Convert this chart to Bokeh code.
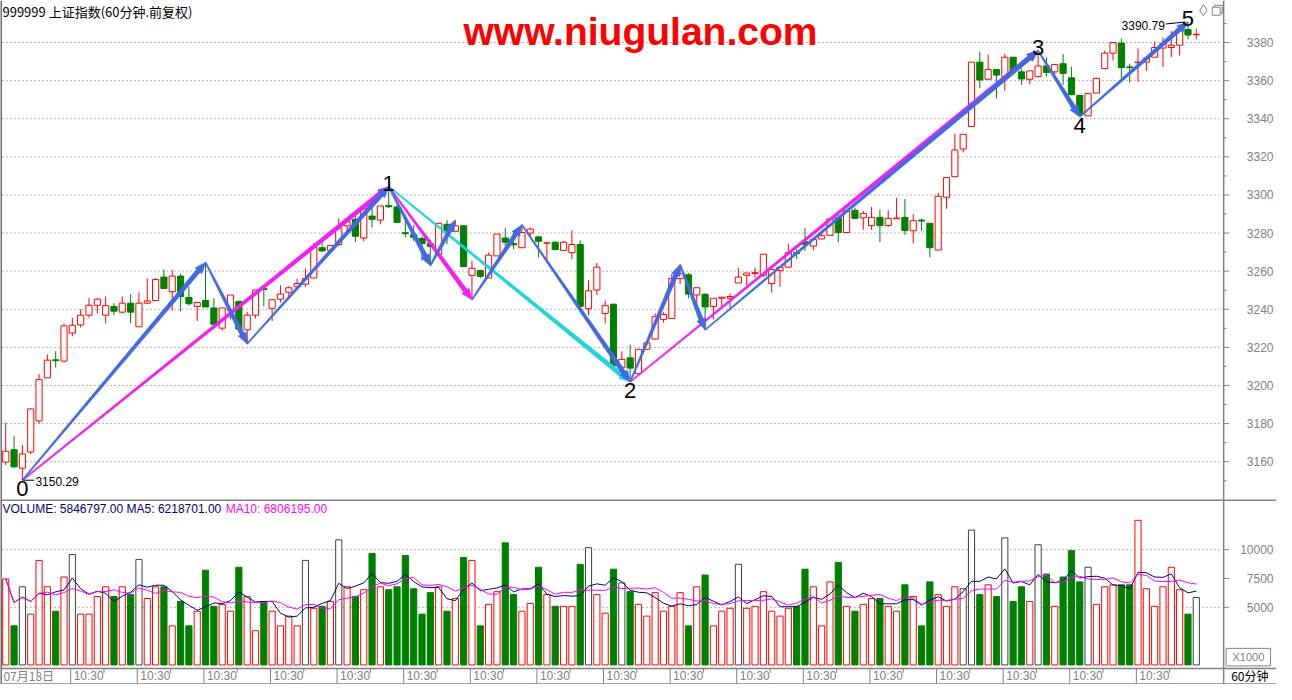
import numpy as np
import pandas as pd
from bokeh.plotting import figure
from bokeh.models import Range1d
from bokeh.core.properties import value
from bokeh.embed import file_html
from bokeh.resources import INLINE

# ---------------- data (60-minute bars, 上证指数) ----------------
opens = [3159.8, 3166.3, 3156.6, 3165.1, 3181.4, 3204.0, 3213.5, 3212.8, 3227.5, 3231.8,
         3236.9, 3242.1, 3236.9, 3241.5, 3238.5, 3243.2, 3230.8, 3243.2, 3244.6, 3256.9,
         3249.2, 3257.4, 3246.2, 3241.5, 3244.6, 3240.7, 3230.1, 3239.5, 3244.1, 3229.2,
         3236.9, 3251.0, 3240.5, 3245.3, 3248.9, 3251.8, 3253.2, 3256.4, 3272.3, 3270.9,
         3274.0, 3283.8, 3287.2, 3277.4, 3288.9, 3286.8, 3294.5, 3293.7, 3280.2, 3279.1,
         3277.1, 3274.4, 3268.9, 3284.6, 3280.9, 3283.8, 3257.8, 3260.3, 3256.4, 3268.0,
         3277.4, 3274.5, 3272.3, 3280.0, 3278.0, 3274.7, 3275.2, 3270.9, 3269.7, 3274.0,
         3240.3, 3250.1, 3237.8, 3242.7, 3209.4, 3214.5, 3206.2, 3219.0, 3224.4, 3234.7,
         3235.2, 3256.1, 3258.1, 3247.5, 3247.9, 3241.5, 3245.8, 3245.8, 3253.8, 3257.8,
         3258.8, 3257.8, 3253.5, 3260.3, 3262.1, 3269.7, 3275.4, 3273.2, 3276.9, 3278.8,
         3288.0, 3280.3, 3292.0, 3288.0, 3283.9, 3288.2, 3283.9, 3287.5, 3288.2, 3281.2,
         3286.8, 3285.1, 3271.1, 3298.8, 3309.6, 3324.1, 3335.9, 3369.7, 3360.7, 3365.8,
         3362.1, 3372.3, 3364.6, 3360.7, 3362.1, 3367.7, 3364.6, 3368.9, 3361.5, 3352.3,
         3341.5, 3353.5, 3366.3, 3374.4, 3379.7, 3367.2, 3369.4, 3369.7, 3372.3, 3377.1,
         3377.4, 3378.6, 3386.8, 3384.1]
highs = [3180.5, 3173.5, 3168.9, 3188.0, 3206.0, 3216.2, 3218.0, 3232.5, 3235.6, 3240.0,
         3245.8, 3245.8, 3246.7, 3243.2, 3246.7, 3247.9, 3248.9, 3256.1, 3256.4, 3260.9,
         3260.7, 3258.6, 3251.8, 3243.6, 3264.6, 3245.8, 3240.7, 3247.5, 3244.6, 3238.5,
         3250.1, 3251.8, 3245.3, 3252.6, 3252.1, 3256.1, 3261.2, 3274.9, 3274.9, 3273.5,
         3287.7, 3287.7, 3289.4, 3294.2, 3294.5, 3294.2, 3304.4, 3294.9, 3287.7, 3284.3,
         3278.3, 3276.6, 3285.1, 3286.8, 3286.8, 3283.8, 3265.5, 3260.7, 3269.7, 3279.5,
         3282.6, 3280.9, 3284.3, 3282.9, 3278.0, 3274.9, 3275.7, 3275.7, 3281.4, 3276.1,
         3255.2, 3264.3, 3244.6, 3242.7, 3217.9, 3221.4, 3219.3, 3222.7, 3237.8, 3238.5,
         3258.6, 3263.4, 3259.0, 3251.3, 3248.4, 3245.8, 3246.3, 3248.4, 3261.7, 3259.0,
         3261.7, 3268.9, 3261.2, 3262.4, 3274.4, 3271.5, 3282.6, 3276.6, 3280.9, 3287.7,
         3289.4, 3292.0, 3293.3, 3291.5, 3293.7, 3292.3, 3292.0, 3298.5, 3297.9, 3289.7,
         3287.7, 3285.1, 3301.0, 3309.4, 3332.1, 3331.8, 3369.7, 3375.2, 3373.7, 3365.8,
         3374.0, 3372.3, 3366.3, 3365.1, 3375.7, 3372.3, 3368.5, 3374.0, 3367.2, 3352.3,
         3353.2, 3361.5, 3375.7, 3380.0, 3382.1, 3368.9, 3376.9, 3371.8, 3380.5, 3382.6,
         3386.0, 3387.2, 3390.79, 3387.2]
lows = [3158.3, 3156.6, 3150.29, 3164.0, 3180.0, 3204.0, 3209.4, 3212.0, 3225.8, 3230.4,
        3235.6, 3237.8, 3232.6, 3236.8, 3237.8, 3232.6, 3230.8, 3242.9, 3244.6, 3250.9,
        3239.3, 3239.0, 3241.9, 3233.8, 3241.2, 3232.1, 3228.7, 3234.7, 3229.6, 3221.9,
        3235.2, 3241.5, 3233.8, 3243.6, 3246.3, 3251.5, 3251.8, 3256.4, 3270.3, 3270.6,
        3273.2, 3280.9, 3275.4, 3275.7, 3282.9, 3284.6, 3293.2, 3285.6, 3277.8, 3275.7,
        3265.5, 3262.9, 3268.0, 3274.0, 3280.9, 3262.1, 3245.0, 3256.4, 3256.4, 3268.0,
        3273.2, 3271.5, 3272.3, 3278.3, 3267.2, 3265.1, 3270.9, 3270.6, 3266.3, 3241.5,
        3236.9, 3247.5, 3232.6, 3210.4, 3207.0, 3201.9, 3205.6, 3219.0, 3224.1, 3233.0,
        3235.2, 3253.2, 3245.8, 3239.8, 3229.2, 3234.7, 3241.5, 3240.7, 3253.8, 3252.6,
        3256.6, 3256.9, 3248.7, 3251.8, 3261.7, 3266.3, 3270.6, 3270.9, 3276.9, 3278.8,
        3275.2, 3280.0, 3287.4, 3281.7, 3281.7, 3275.2, 3283.4, 3287.5, 3279.1, 3274.5,
        3281.2, 3267.2, 3271.1, 3292.8, 3309.6, 3322.4, 3335.9, 3356.1, 3360.7, 3350.6,
        3354.7, 3364.6, 3357.8, 3358.1, 3362.1, 3362.1, 3362.9, 3357.8, 3352.6, 3341.0,
        3341.5, 3353.5, 3366.0, 3370.6, 3361.2, 3359.0, 3359.5, 3365.0, 3372.3, 3367.2,
        3372.3, 3373.2, 3381.7, 3381.7]
closes = [3165.5, 3157.3, 3164.1, 3187.7, 3203.1, 3213.3, 3213.0, 3231.3, 3231.6, 3236.9,
          3242.1, 3245.3, 3241.9, 3239.0, 3243.2, 3238.5, 3243.2, 3244.4, 3255.6, 3250.9,
          3257.4, 3246.7, 3242.9, 3243.6, 3241.2, 3232.1, 3240.7, 3247.5, 3229.6, 3236.9,
          3250.1, 3250.4, 3245.0, 3248.0, 3251.3, 3253.5, 3256.1, 3272.6, 3270.6, 3273.5,
          3282.6, 3286.0, 3278.3, 3292.8, 3287.2, 3294.2, 3293.8, 3285.6, 3279.7, 3277.8,
          3274.5, 3273.0, 3285.1, 3281.2, 3283.8, 3262.4, 3261.5, 3257.3, 3268.4, 3279.5,
          3275.2, 3273.8, 3280.3, 3282.1, 3275.7, 3274.9, 3271.3, 3275.2, 3274.0, 3241.5,
          3249.7, 3262.1, 3241.9, 3210.4, 3213.7, 3209.1, 3219.0, 3222.4, 3236.1, 3237.3,
          3256.1, 3258.6, 3248.0, 3251.3, 3241.2, 3245.8, 3246.3, 3246.7, 3256.9, 3259.0,
          3259.2, 3268.9, 3260.9, 3262.1, 3269.7, 3269.2, 3274.0, 3276.6, 3278.6, 3287.4,
          3280.3, 3291.6, 3287.7, 3290.3, 3288.2, 3283.9, 3287.7, 3287.9, 3281.4, 3286.5,
          3286.3, 3272.3, 3299.3, 3309.1, 3323.6, 3331.8, 3369.7, 3360.3, 3365.8, 3362.9,
          3372.3, 3365.0, 3360.9, 3365.1, 3367.7, 3364.3, 3368.5, 3363.8, 3352.6, 3342.1,
          3353.2, 3361.2, 3374.4, 3380.0, 3366.8, 3366.8, 3369.7, 3371.8, 3377.4, 3379.5,
          3378.6, 3387.2, 3383.9, 3384.3]
# volume in units of 1000 (axis shows X1000)
volumes = [7458, 3390, 6780, 4407, 9068, 6780, 4661, 7628, 9577, 4407,
           4407, 5933, 6780, 5933, 6780, 6102, 9153, 5763, 6780, 6780,
           3390, 5509, 3390, 4661, 8221, 5085, 5255, 4661, 8475, 5933,
           2966, 5509, 4661, 3390, 4238, 3390, 9068, 4916, 5085, 5509,
           10848, 6780, 5933, 6526, 9662, 6780, 6526, 6780, 9492, 6611,
           4407, 6272, 6780, 4661, 5763, 9323, 9068, 3390, 5255, 6356,
           10594, 6102, 4661, 5339, 8475, 6102, 5085, 5085, 5085, 8729,
           10170, 6102, 4492, 8306, 7119, 6356, 5255, 4238, 6272, 4661,
           5085, 6272, 3390, 6780, 7797, 3390, 4661, 4916, 8729, 4916,
           5085, 6356, 4661, 4238, 4916, 5085, 8306, 6780, 3390, 7204,
           8899, 5085, 4661, 5255, 5763, 5763, 5085, 4661, 6950, 5933,
           3390, 7204, 6102, 5085, 6780, 6611, 11696, 6102, 6950, 5933,
           11018, 5509, 6780, 5509, 10424, 7882, 5085, 7628, 9916, 7204,
           8475, 5255, 6780, 6950, 6950, 6950, 12543, 6611, 5085, 6780,
           8475, 6526, 4407, 5847]
dark_volume_bars = [2, 8, 16, 36, 40, 70, 74, 88, 115, 116, 120, 124, 130, 143]

wave_names = ["0", "1", "2", "3", "4", "5"]
wave_idx = [2, 46, 75, 124, 129, 142]
wave_is_high = [False, True, False, True, False, True]
sub_idx = {"A": 24, "B": 29, "C": 51, "D": 54, "E": 56, "F": 62, "G": 81, "H": 84}
sub_is_high = {"A": True, "B": False, "C": False, "D": True, "E": False, "F": True, "G": True, "H": False}

blue_legs = [("0", "A"), ("A", "B"), ("B", "1"), ("1", "C"), ("C", "D"), ("E", "F"), ("F", "2"),
             ("2", "G"), ("G", "H"), ("H", "3"), ("3", "4"), ("4", "5")]
magenta_legs = [("0", "1"), ("1", "E"), ("2", "3")]
cyan_legs = [("1", "2")]

price_ticks = list(range(3160, 3381, 20))
vol_ticks = [5000, 7500, 10000]
first_day_label = "07月18日"
bar_time_label = "10:30"
header = "999999 上证指数(60分钟.前复权)"
watermark = "www.niugulan.com"
legend_vol = "VOLUME: 5846797.00 MA5: 6218701.00"
legend_ma10 = "MA10: 6806195.00"
period_label = "60分钟"
unit_label = "X1000"

# ---------------- geometry ----------------
FW, FH = 1276, 684
STEP, OFF = 8.43, 5.3          # reference-pixel spacing of bars
def RX(xr): return (xr - OFF) / STEP
def RY(yr): return 3380 - (yr - 43) / 1.95
def RV(yr): return (680 - yr) * 84.75
X0, X1 = RX(0), RX(1292)
P0, P1 = RY(700), RY(0)
V0, V1 = RV(700), RV(0)
sx = FW / (X1 - X0)
sy = FH / (P1 - P0)

n = len(opens)
idx = np.arange(n)
o = np.array(opens); h = np.array(highs); l = np.array(lows); c = np.array(closes)
up = c >= o

RED, GREEN = "#ff0000", "#008000"
BLUE, MAG, CYAN = "#4169e1", "#f020f0", "#22d3dc"
GRAY = "#808080"

p = figure(width=FW, height=FH, x_range=Range1d(X0, X1), y_range=Range1d(P0, P1),
           output_backend="svg", toolbar_location=None, min_border=0,
           x_axis_location=None, y_axis_location=None)
p.extra_y_ranges = {"vol": Range1d(V0, V1)}
p.grid.visible = False
p.outline_line_color = None
p.background_fill_color = "white"
p.border_fill_color = "white"

# gridlines
gx0, gx1 = RX(2), RX(1237)
p.segment(x0=[gx0] * len(price_ticks), x1=[gx1] * len(price_ticks), y0=price_ticks, y1=price_ticks,
          line_color="#6a6a6a", line_dash="1 3", line_width=1)
p.segment(x0=[gx0, gx0], x1=[gx1, gx1], y0=[5000, 10000], y1=[5000, 10000], y_range_name="vol",
          line_color="#6a6a6a", line_dash="1 3", line_width=1)

# frame lines
p.segment(x0=[RX(0.5)], x1=[RX(0.5)], y0=[P0], y1=[P1], line_color="#404040", line_width=1.5)
p.segment(x0=[RX(1238.5)], x1=[RX(1238.5)], y0=[P0], y1=[P1], line_color=GRAY, line_width=1.5)
p.segment(x0=[X0, X0, X0], x1=[X1, X1, X1], y0=[RY(511.5), RY(683.5), RY(699.5)],
          y1=[RY(511.5), RY(683.5), RY(699.5)], line_color=GRAY, line_width=1.5)

# candle wicks
wx, wy0, wy1, wc = [], [], [], []
for i in range(n):
    if up[i]:
        wx += [i, i]; wy0 += [h[i], min(o[i], c[i])]; wy1 += [max(o[i], c[i]), l[i]]; wc += [RED, RED]
    else:
        wx.append(i); wy0.append(h[i]); wy1.append(l[i]); wc.append(GREEN)
p.segment(x0=wx, x1=wx, y0=wy0, y1=wy1, line_color=wc, line_width=1)
# candle bodies
p.vbar(x=idx, width=0.74, top=np.maximum(o, c), bottom=np.minimum(o, c),
       fill_color=["white" if u else GREEN for u in up],
       line_color=[RED if u else GREEN for u in up], line_width=1)

# volume bars
vcol = [RED if u else GREEN for u in up]
for k in dark_volume_bars:
    vcol[k] = "#404040"
vfill = [GREEN if (not up[i] and i not in dark_volume_bars) else "white" for i in range(n)]
p.vbar(x=idx, width=0.74, top=volumes, bottom=0, y_range_name="vol",
       fill_color=vfill, line_color=vcol, line_width=1)
vs = pd.Series(volumes, dtype=float)
ma5 = vs.rolling(5, min_periods=1).mean()
ma10 = vs.rolling(10, min_periods=1).mean()
p.line(idx, ma5, y_range_name="vol", line_color="#000080", line_width=1)
p.line(idx, ma10, y_range_name="vol", line_color="#ff00ff", line_width=1)

# wave points
pts = {}
for name, i, hi in zip(wave_names, wave_idx, wave_is_high):
    pts[name] = (i, highs[i] if hi else lows[i])
for name, i in sub_idx.items():
    pts[name] = (i, highs[i] if sub_is_high[name] else lows[i])

def arrow_poly(a, b, w0, w1, hl, hw):
    ax, ay = (a[0] - X0) * sx, (a[1] - P0) * sy
    bx, by = (b[0] - X0) * sx, (b[1] - P0) * sy
    dx, dy = bx - ax, by - ay
    L = np.hypot(dx, dy); ux, uy = dx / L, dy / L; nx, ny = -uy, ux
    cx, cy = bx - ux * hl, by - uy * hl
    q = [(ax + nx * w0 / 2, ay + ny * w0 / 2), (cx + nx * w1 / 2, cy + ny * w1 / 2),
         (cx + nx * hw, cy + ny * hw), (bx, by), (cx - nx * hw, cy - ny * hw),
         (cx - nx * w1 / 2, cy - ny * w1 / 2), (ax - nx * w0 / 2, ay - ny * w0 / 2)]
    return [x / sx + X0 for x, _ in q], [y / sy + P0 for _, y in q]

axs, ays, acol = [], [], []
for legs, col in ((magenta_legs, MAG), (cyan_legs, CYAN), (blue_legs, BLUE)):
    for a, b in legs:
        xs, ys = arrow_poly(pts[a], pts[b], 1.2, 4.5, 11, 4.5)
        axs.append(xs); ays.append(ys); acol.append(col)
p.patches(xs=axs, ys=ays, fill_color=acol, line_color=acol, line_width=0.6)

# wave labels
for name, i, hi in zip(wave_names, wave_idx, wave_is_high):
    yv = highs[i] if hi else lows[i]
    p.text(x=[i], y=[yv], text=[name], text_align="center",
           text_baseline="bottom" if hi else "top", y_offset=4 if hi else 1,
           text_font=value("Liberation Sans"), text_font_size="22px", text_color="black")

# extreme price annotations
lo_i = wave_idx[0]; hi_i = wave_idx[-1]
p.segment(x0=[lo_i + 0.15], x1=[lo_i + 12 / sx], y0=[lows[lo_i]], y1=[lows[lo_i]], line_color="black")
p.text(x=[lo_i + 13 / sx], y=[lows[lo_i]], text=[f"{lows[lo_i]:.2f}"], text_align="left",
       text_baseline="middle", text_font=value("Liberation Sans"), text_font_size="12px",
       text_color="black", y_offset=1)
p.segment(x0=[hi_i - 22 / sx], x1=[hi_i - 0.3], y0=[highs[hi_i] - 2 / sy], y1=[highs[hi_i]],
          line_color="black")
p.text(x=[hi_i - 23 / sx], y=[highs[hi_i]], text=[f"{highs[hi_i]:.2f}"], text_align="right",
       text_baseline="middle", text_font=value("Liberation Sans"), text_font_size="12px",
       text_color="black", y_offset=4)

# right axis (price)
ax_x = RX(1238.5)
p.segment(x0=[ax_x] * len(price_ticks), x1=[RX(1244)] * len(price_ticks), y0=price_ticks,
          y1=price_ticks, line_color=GRAY)
minor = [t + 10 for t in range(3140, 3381, 20)]
p.segment(x0=[ax_x] * len(minor), x1=[RX(1241.5)] * len(minor), y0=minor, y1=minor, line_color=GRAY)
p.text(x=[RX(1289)] * len(price_ticks), y=price_ticks, text=[str(t) for t in price_ticks],
       text_align="right", text_baseline="middle", text_font=value("Liberation Sans"),
       text_font_size="12px", text_color=GRAY)
# right axis (volume)
p.segment(x0=[ax_x] * 3, x1=[RX(1244)] * 3, y0=vol_ticks, y1=vol_ticks, y_range_name="vol",
          line_color=GRAY)
p.text(x=[RX(1289)] * 3, y=vol_ticks, text=[str(t) for t in vol_ticks], y_range_name="vol",
       text_align="right", text_baseline="middle", text_font=value("Liberation Sans"),
       text_font_size="12px", text_color=GRAY)

# boxes in the axis column
p.quad(left=[RX(1241)], right=[RX(1286)], top=[RY(663)], bottom=[RY(681)],
       fill_color=None, line_color=GRAY)
p.text(x=[RX(1263.5)], y=[RY(672)], text=[unit_label], text_align="center", text_baseline="middle",
       text_font=value("Liberation Sans"), text_font_size="11px", text_color=GRAY)
p.text(x=[RX(1265)], y=[RY(690.5)], text=[period_label], text_align="center", text_baseline="middle",
       text_font=value("Noto Sans CJK SC"), text_font_size="12px", text_color="black")

# time axis strip
lab_idx = list(range(8, n, 8))
div_x = [i - 0.2 for i in lab_idx]
p.segment(x0=div_x, x1=div_x, y0=[RY(684)] * len(div_x), y1=[RY(699)] * len(div_x), line_color=GRAY)
mid_x = [i + 4 - 0.2 for i in [0] + lab_idx if i + 4 < n]
p.segment(x0=mid_x, x1=mid_x, y0=[RY(684)] * len(mid_x), y1=[RY(688)] * len(mid_x), line_color=GRAY)
p.text(x=div_x, y=[RY(691.5)] * len(div_x), text=[bar_time_label] * len(div_x), x_offset=3,
       text_align="left", text_baseline="middle", text_font=value("Liberation Sans"),
       text_font_size="12px", text_color=GRAY)
p.text(x=[RX(3)], y=[RY(690.5)], text=[first_day_label], text_align="left", text_baseline="middle",
       text_font=value("Noto Sans CJK SC"), text_font_size="12px", text_color=GRAY)

# header, watermark, legend
p.text(x=[RX(2)], y=[RY(11)], text=[header], text_align="left", text_baseline="middle",
       text_font=value("Noto Sans CJK SC"), text_font_size="13px", text_color="black")
p.text(x=[RX(648)], y=[RY(32)], text=[watermark], text_align="center", text_baseline="alphabetic",
       text_font=value("Liberation Sans"), text_font_style="bold", text_font_size="39px",
       text_color="#ff0000")
p.text(x=[RX(2)], y=[RY(520)], text=[legend_vol], text_align="left", text_baseline="middle",
       text_font=value("Liberation Sans"), text_font_size="12px", text_color="#000080")
p.text(x=[RX(228)], y=[RY(520)], text=[legend_ma10], text_align="left", text_baseline="middle",
       text_font=value("Liberation Sans"), text_font_size="12px", text_color="#ff00ff")

# small window icons, top right
p.scatter(x=[RX(1218)], y=[RY(10)], marker="diamond", size=11, fill_color=None, line_color=GRAY)
p.scatter(x=[RX(1233), RX(1231)], y=[RY(9), RY(11)], marker="square", size=8,
          fill_color="white", line_color=GRAY)

open("out.html", "w").write(file_html(p, INLINE))
